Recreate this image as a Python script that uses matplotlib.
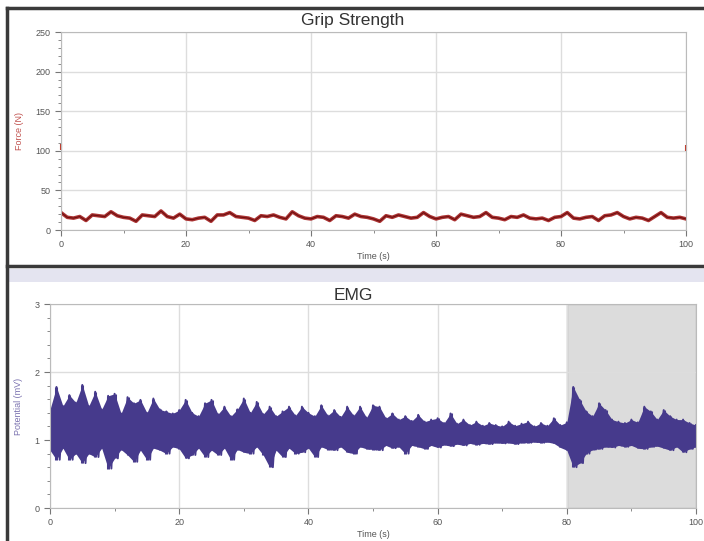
import numpy as np
import matplotlib.pyplot as plt
from matplotlib.lines import Line2D
from matplotlib.patches import Rectangle
from matplotlib.ticker import MultipleLocator

plt.rcParams['font.family'] = ['Liberation Sans', 'DejaVu Sans']

# grip force, one reading per second (N)
force = [22, 16, 15, 17, 12, 19, 18, 17, 23, 18, 16, 15, 11, 19, 18, 17, 24,
         17, 15, 20, 14, 13, 15, 16, 11, 19, 19, 22, 17, 16, 15, 12, 18, 17,
         19, 16, 14, 23, 18, 15, 14, 17, 16, 12, 18, 17, 15, 20, 17, 16, 14,
         11, 18, 16, 19, 17, 15, 16, 22, 17, 14, 16, 17, 13, 20, 18, 16, 17,
         22, 16, 15, 13, 17, 16, 19, 15, 14, 15, 12, 16, 17, 22, 15, 14, 16,
         17, 12, 18, 19, 22, 17, 14, 16, 15, 12, 17, 22, 16, 15, 16, 14]
force_marks_t = [0, 100]
force_marks = [105, 103]

# EMG envelope, upper / lower per second (mV)
emg_hi = [1.45, 1.78, 1.50, 1.66, 1.55, 1.81, 1.50, 1.71, 1.45, 1.65, 1.68,
          1.39, 1.63, 1.54, 1.59, 1.40, 1.61, 1.45, 1.42, 1.39, 1.44, 1.59,
          1.40, 1.35, 1.54, 1.59, 1.38, 1.49, 1.35, 1.45, 1.61, 1.40, 1.56,
          1.38, 1.49, 1.35, 1.42, 1.49, 1.36, 1.49, 1.40, 1.35, 1.51, 1.36,
          1.44, 1.34, 1.49, 1.36, 1.49, 1.33, 1.51, 1.49, 1.32, 1.39, 1.30,
          1.35, 1.28, 1.37, 1.27, 1.30, 1.32, 1.25, 1.39, 1.24, 1.30, 1.22,
          1.27, 1.21, 1.25, 1.22, 1.20, 1.27, 1.21, 1.24, 1.27, 1.20, 1.25,
          1.21, 1.32, 1.22, 1.26, 1.78, 1.59, 1.42, 1.35, 1.54, 1.44, 1.30,
          1.27, 1.25, 1.30, 1.26, 1.49, 1.42, 1.30, 1.44, 1.35, 1.30, 1.30,
          1.25, 1.22]
emg_lo = [0.85, 0.71, 0.88, 0.71, 0.80, 0.66, 0.80, 0.75, 0.88, 0.58, 0.73,
          0.86, 0.78, 0.68, 0.85, 0.71, 0.88, 0.85, 0.80, 0.90, 0.87, 0.73,
          0.78, 0.88, 0.75, 0.85, 0.78, 0.88, 0.71, 0.86, 0.82, 0.80, 0.90,
          0.78, 0.60, 0.85, 0.75, 0.88, 0.80, 0.82, 0.88, 0.75, 0.90, 0.86,
          0.85, 0.90, 0.82, 0.80, 0.90, 0.87, 0.86, 0.85, 0.92, 0.88, 0.90,
          0.80, 0.92, 0.90, 0.87, 0.92, 0.89, 0.93, 0.91, 0.94, 0.92, 0.95,
          0.93, 0.95, 0.94, 0.96, 0.95, 0.96, 0.94, 0.96, 0.96, 0.97, 0.96,
          0.97, 0.95, 0.89, 0.85, 0.60, 0.66, 0.80, 0.86, 0.87, 0.90, 0.89,
          0.92, 0.90, 0.92, 0.88, 0.87, 0.90, 0.91, 0.88, 0.85, 0.90, 0.82,
          0.87, 0.90]

t_force = np.linspace(0, 100, len(force))
t_emg = np.linspace(0, 100, len(emg_hi))

fig = plt.figure(figsize=(7.04, 5.41), dpi=100)
tick_col = '#555555'
grid_col = '#dddddd'


def style(ax):
    for s in ax.spines.values():
        s.set_color('#bbbbbb')
    ax.tick_params(which='both', colors='#777777', labelcolor=tick_col,
                   labelsize=6.5, direction='out')
    ax.tick_params(which='major', length=4)
    ax.tick_params(which='minor', length=2)
    ax.grid(True, which='major', color=grid_col, lw=1)
    ax.set_axisbelow(True)
    ax.set_xlim(0, 100)
    ax.xaxis.set_major_locator(MultipleLocator(20))
    ax.xaxis.set_minor_locator(MultipleLocator(10))
    ax.set_xlabel('Time (s)', fontsize=6.5, color=tick_col, labelpad=2)


# grip strength
ax1 = fig.add_axes([61 / 704, 1 - 230 / 541, 625 / 704, 198 / 541])
style(ax1)
ax1.set_ylim(0, 250)
ax1.yaxis.set_major_locator(MultipleLocator(50))
ax1.yaxis.set_minor_locator(MultipleLocator(10))
ax1.plot(t_force, force, color='#a31d1d', lw=2.6, alpha=0.9)
ax1.plot(t_force, force, color='#6e0f0f', lw=0.8)
ax1.plot(force_marks_t, force_marks, ls='none', marker='|', ms=5, mew=1.5,
         color='#c0392b', clip_on=False)
ax1.set_ylabel('Force (N)', fontsize=6.5, color='#c0504d', labelpad=8)
fig.text(353 / 704, 1 - 21 / 541, 'Grip Strength', fontsize=12.5,
         color='#333333', ha='center', va='center')

# EMG
ax2 = fig.add_axes([50 / 704, 1 - 508 / 541, 646 / 704, 204 / 541])
style(ax2)
ax2.set_ylim(0, 3)
ax2.yaxis.set_major_locator(MultipleLocator(1))
ax2.yaxis.set_minor_locator(MultipleLocator(0.2))
ax2.add_patch(Rectangle((80, 0), 20, 3, facecolor='#dcdcdc',
                        edgecolor='#aaaaaa', lw=1, zorder=0.5))
emg_col = '#463a8c'
ax2.fill_between(t_emg, emg_lo, emg_hi, color=emg_col, lw=0)
ax2.vlines(t_emg, emg_lo, emg_hi, color=emg_col, lw=2.2)
zig_t = np.ravel(np.column_stack([t_emg, t_emg + 0.5]))[:-1]
zig_v = np.ravel(np.column_stack([emg_hi, emg_lo]))[:-1]
ax2.plot(zig_t, zig_v, color=emg_col, lw=1.4)
ax2.set_ylabel('Potential (mV)', fontsize=6.5, color='#7b72b0', labelpad=8)
fig.text(353 / 704, 1 - 295 / 541, 'EMG', fontsize=12.5,
         color='#333333', ha='center', va='center')

# window frame
fig.add_artist(Line2D([7 / 704, 1], [1 - 8 / 541] * 2, color='#3a3a3a', lw=2.5))
fig.add_artist(Line2D([7 / 704, 1], [1 - 266 / 541] * 2, color='#3a3a3a', lw=2.5))
fig.add_artist(Line2D([7 / 704] * 2, [0, 1 - 8 / 541], color='#3a3a3a', lw=2.5))
fig.add_artist(Rectangle((8 / 704, 1 - 282 / 541), 1, 13 / 541,
                         facecolor='#e4e4f0', edgecolor='none'))

fig.savefig('out.png', dpi=100)
